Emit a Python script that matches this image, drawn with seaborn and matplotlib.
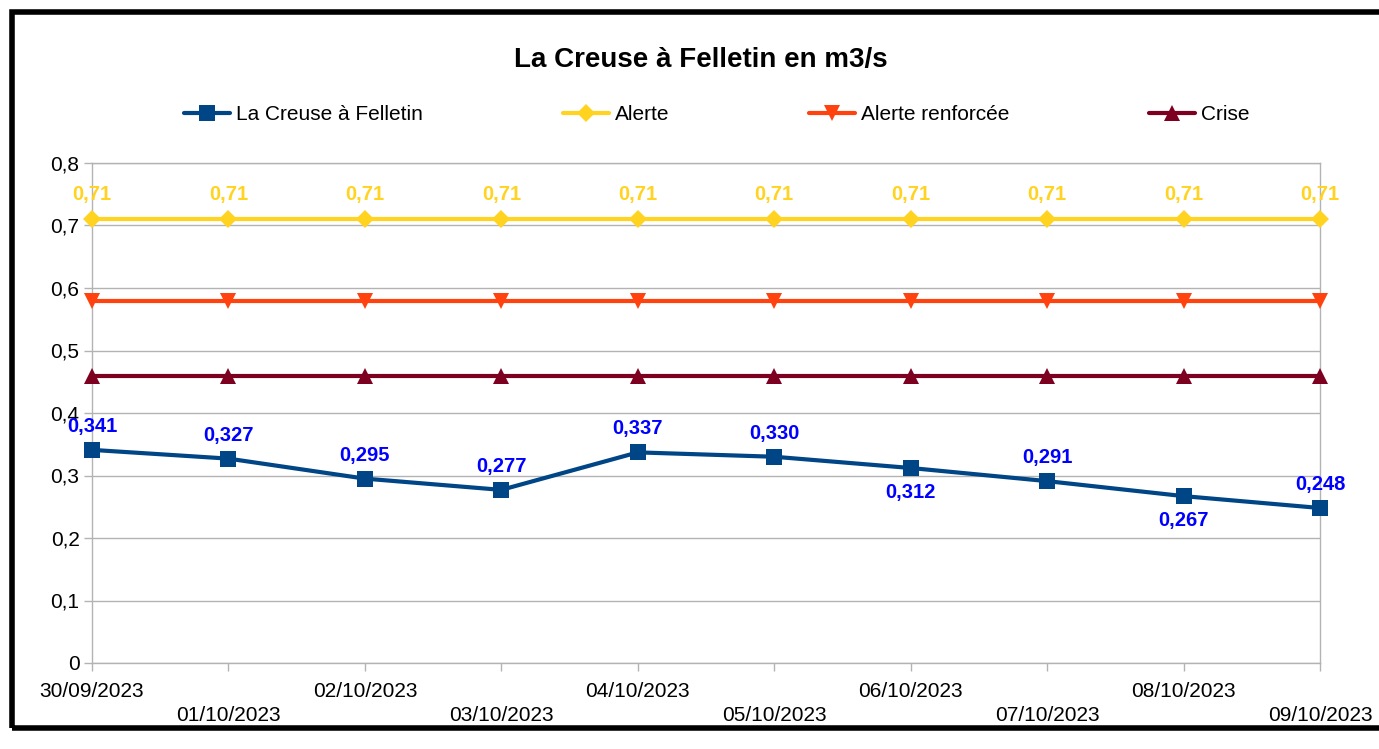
import matplotlib
matplotlib.use("Agg")
import matplotlib.pyplot as plt
import seaborn as sns
import numpy as np
import pandas as pd
from matplotlib.patches import Rectangle

dates = ["30/09/2023", "01/10/2023", "02/10/2023", "03/10/2023", "04/10/2023",
         "05/10/2023", "06/10/2023", "07/10/2023", "08/10/2023", "09/10/2023"]
debit = [0.341, 0.327, 0.295, 0.277, 0.337, 0.330, 0.312, 0.291, 0.267, 0.248]
alerte = [0.71] * 10
alerte_renforcee = [0.58] * 10
crise = [0.46] * 10
label_below = [False, False, False, False, False, False, True, False, True, False]

sns.set_theme(style="white")
plt.rcParams["font.family"] = ["Liberation Sans", "DejaVu Sans"]
plt.rcParams["text.color"] = "black"

fig = plt.figure(figsize=(13.79, 7.49), dpi=100)
ax = fig.add_axes([92/1379, 1-663/749, (1320-92)/1379, 500/749])

x = np.arange(len(dates))
df = pd.DataFrame({"x": x, "debit": debit, "alerte": alerte,
                   "renf": alerte_renforcee, "crise": crise})

c_blue = "#004586"
c_yel = "#FFD320"
c_or = "#FF420E"
c_red = "#7E0021"

sns.lineplot(data=df, x="x", y="crise", ax=ax, color=c_red, lw=3, marker="^",
             markersize=11, markeredgewidth=0, label="Crise", zorder=3, clip_on=False)
sns.lineplot(data=df, x="x", y="renf", ax=ax, color=c_or, lw=3, marker="v",
             markersize=11, markeredgewidth=0, label="Alerte renforcée", zorder=3, clip_on=False)
sns.lineplot(data=df, x="x", y="alerte", ax=ax, color=c_yel, lw=3, marker="D",
             markersize=9, markeredgewidth=0, label="Alerte", zorder=3, clip_on=False)
sns.lineplot(data=df, x="x", y="debit", ax=ax, color=c_blue, lw=3, marker="s",
             markersize=11, markeredgewidth=0, label="La Creuse à Felletin", zorder=4,
             clip_on=False)

for xi, v in zip(x, alerte):
    ax.annotate(f"{v:.2f}".replace(".", ","), (xi, v), xytext=(0, 11),
                textcoords="offset points", ha="center", va="bottom",
                color=c_yel, fontsize=14.5, fontweight="bold")
for xi, v, b in zip(x, debit, label_below):
    off = -11 if b else 10
    ax.annotate(f"{v:.3f}".replace(".", ","), (xi, v), xytext=(0, off),
                textcoords="offset points", ha="center",
                va="top" if b else "bottom",
                color="#0000FF", fontsize=14.5, fontweight="bold")

ax.set_xlim(0, len(dates) - 1)
ax.set_ylim(0, 0.8)
ax.set_yticks(np.arange(0, 0.81, 0.1))
ax.set_yticklabels([("%.1f" % t).replace(".", ",") if t > 0 else "0"
                    for t in np.arange(0, 0.81, 0.1)], fontsize=15, color="black")
ax.set_xticks(x)
ax.set_xticklabels([d if i % 2 == 0 else "\n" + d for i, d in enumerate(dates)],
                   fontsize=15, color="black", linespacing=1.3)
ax.tick_params(axis="x", length=6, width=1, color="#b3b3b3", pad=8, bottom=True)
ax.tick_params(axis="y", length=6, width=1, color="#b3b3b3", pad=3, left=True)
ax.set_xlabel("")
ax.set_ylabel("")
ax.grid(axis="y", color="#b3b3b3", lw=1)
ax.grid(axis="x", visible=False)
for s in ax.spines.values():
    s.set_color("#b3b3b3")
    s.set_linewidth(1)

ax.get_legend().remove()
handles, labels = ax.get_legend_handles_labels()
order = [3, 2, 1, 0]
leg = fig.legend([handles[i] for i in order], [labels[i] for i in order],
                 loc="center", bbox_to_anchor=(717/1379, 1-115/749), ncol=4, frameon=False,
                 fontsize=15, handlelength=2.2, handletextpad=0.3, columnspacing=6.7,
                 borderpad=0)
for t in leg.get_texts():
    t.set_color("black")

fig.text(701/1379, 1-60/749, "La Creuse à Felletin en m3/s", ha="center", va="center",
         fontsize=20, fontweight="bold", color="black")

fig.add_artist(Rectangle((12/1379, 1-728/749), 1.2, (728-12)/749, transform=fig.transFigure,
                         fill=False, edgecolor="black", lw=4, clip_on=False))

fig.savefig("out.png", dpi=100, facecolor="white")
